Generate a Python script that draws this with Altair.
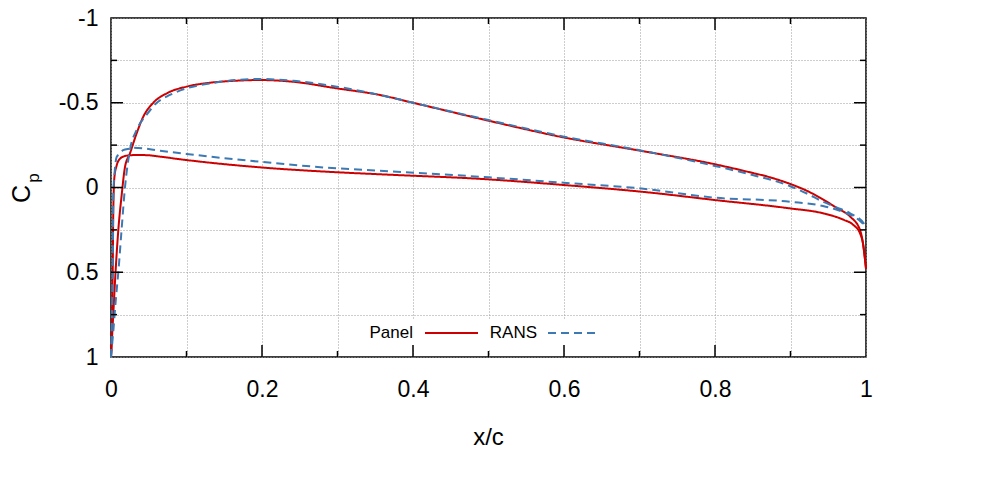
import altair as alt
import pandas as pd

# ---------------- data ----------------
series_names = ["Panel", "RANS"]
series_colors = ["#cc0000", "#3d7ab3"]

panel_upper_x = [0, 0.003, 0.006, 0.0097, 0.014, 0.0185, 0.025, 0.034, 0.043, 0.056, 0.074, 0.100,
                 0.131, 0.166, 0.197, 0.241, 0.299, 0.356, 0.400, 0.500, 0.599, 0.701, 0.800,
                 0.846, 0.873, 0.899, 0.921, 0.943, 0.961, 0.979, 0.992, 0.996, 1.0]
panel_upper_cp = [1.0, 0.75, 0.5, 0.25, 0.05, -0.12, -0.20, -0.32, -0.42, -0.50, -0.556, -0.595,
                  -0.618, -0.630, -0.634, -0.624, -0.585, -0.546, -0.500, -0.394, -0.296, -0.217, -0.137,
                  -0.09, -0.06, -0.022, 0.018, 0.07, 0.12, 0.172, 0.25, 0.33, 0.48]

panel_lower_x = [0, 0.0015, 0.0025, 0.003, 0.0045, 0.0075, 0.012, 0.018, 0.025, 0.036, 0.05, 0.065,
                 0.10, 0.197, 0.299, 0.356, 0.50, 0.599, 0.714, 0.80, 0.899, 0.943, 0.97, 0.983,
                 0.992, 0.996, 1.0]
panel_lower_cp = [1.0, 0.75, 0.4, 0.15, -0.06, -0.13, -0.17, -0.185, -0.19, -0.192, -0.19, -0.182,
                  -0.162, -0.119, -0.09, -0.078, -0.048, -0.015, 0.03, 0.074, 0.123, 0.152, 0.19, 0.22,
                  0.27, 0.33, 0.48]

rans_upper_x = [0, 0.003, 0.0066, 0.0097, 0.014, 0.0185, 0.025, 0.034, 0.047, 0.060, 0.078, 0.100,
                0.131, 0.166, 0.197, 0.241, 0.299, 0.356, 0.400, 0.500, 0.600, 0.700, 0.800, 0.846,
                0.899, 0.921, 0.943, 0.961, 0.979, 0.997, 1.0]
rans_upper_cp = [1.0, 0.85, 0.65, 0.5, 0.25, 0.0, -0.22, -0.34, -0.428, -0.497, -0.546, -0.585,
                 -0.614, -0.634, -0.640, -0.630, -0.595, -0.546, -0.50, -0.398, -0.30, -0.22, -0.127, -0.078,
                 -0.009, 0.034, 0.084, 0.117, 0.152, 0.211, 0.23]

rans_lower_x = [0, 0.0015, 0.0025, 0.003, 0.005, 0.0075, 0.012, 0.016, 0.025, 0.03, 0.065, 0.10,
                0.197, 0.299, 0.356, 0.50, 0.60, 0.70, 0.80, 0.90, 0.943, 0.974, 0.987, 1.0]
rans_lower_cp = [1.0, 0.7, 0.35, 0.05, -0.10, -0.18, -0.20, -0.22, -0.23, -0.235, -0.217, -0.198,
                 -0.152, -0.113, -0.099, -0.06, -0.028, 0.005, 0.06, 0.084, 0.109, 0.152, 0.18, 0.23]

x_grid = [0, 0.1, 0.2, 0.3, 0.4, 0.5, 0.6, 0.7, 0.8, 0.9, 1]
y_grid = [-1, -0.75, -0.5, -0.25, 0, 0.25, 0.5, 0.75, 1]
x_major = [0.2, 0.4, 0.6, 0.8]
x_minor = [0.1, 0.3, 0.5, 0.7, 0.9]
y_major = [-0.5, 0, 0.5]
y_minor = [-0.75, -0.25, 0.25, 0.75]

# ---------------- build table ----------------
rows = []
for name, surf, xs, cps in [
    ("Panel", "upper", panel_upper_x, panel_upper_cp),
    ("Panel", "lower", panel_lower_x, panel_lower_cp),
    ("RANS", "upper", rans_upper_x, rans_upper_cp),
    ("RANS", "lower", rans_lower_x, rans_lower_cp),
]:
    for i, (xv, cv) in enumerate(zip(xs, cps)):
        rows.append({"x": xv, "cp": cv, "series": name, "curve": name + "-" + surf, "o": i})
df = pd.DataFrame(rows)

W, H = 755, 339
FONT = "Liberation Sans"
xscale = alt.Scale(domain=[0, 1], nice=False, zero=False)
yscale = alt.Scale(domain=[-1, 1], reverse=True, nice=False, zero=False)

xaxis = alt.Axis(values=x_grid, grid=True, gridDash=[1, 2], gridColor="#9a9a9a", gridWidth=1,
                 ticks=False, domain=False, labelFontSize=23, labelPadding=21, labelColor="black",
                 labelFont=FONT, title=None, labelFlush=False, labelOverlap=False,
                 labelExpr="(round(datum.value*10) % 2 == 0) ? ('' + datum.value) : ''")
yaxis = alt.Axis(values=y_grid, grid=True, gridDash=[1, 2], gridColor="#9a9a9a", gridWidth=1,
                 ticks=False, domain=False, labelFontSize=23, labelPadding=13, labelColor="black",
                 labelFont=FONT, title=None, labelFlush=False, labelOverlap=False,
                 labelExpr="(round(datum.value*4) % 2 == 0) ? ('' + datum.value) : ''")

lines = alt.Chart(df).mark_line(strokeWidth=2, clip=False, interpolate="monotone").encode(
    x=alt.X("x:Q", scale=xscale, axis=xaxis),
    y=alt.Y("cp:Q", scale=yscale, axis=yaxis),
    color=alt.Color("series:N", scale=alt.Scale(domain=series_names, range=series_colors), legend=None),
    strokeDash=alt.StrokeDash("series:N", scale=alt.Scale(domain=series_names, range=[[1, 0], [8, 5]]),
                              legend=None),
    detail="curve:N",
    order="o:Q",
)

def xticks(vals, length, top):
    d = pd.DataFrame({"x": vals})
    if top:
        enc = dict(y=alt.value(0), y2=alt.value(length))
    else:
        enc = dict(y=alt.value(H), y2=alt.value(H - length))
    return alt.Chart(d).mark_rule(color="black", strokeWidth=1.5).encode(
        x=alt.X("x:Q", scale=xscale, axis=xaxis), **enc)

def yticks(vals, length, right):
    d = pd.DataFrame({"cp": vals})
    if right:
        enc = dict(x=alt.value(W), x2=alt.value(W - length))
    else:
        enc = dict(x=alt.value(0), x2=alt.value(length))
    return alt.Chart(d).mark_rule(color="black", strokeWidth=1.5).encode(
        y=alt.Y("cp:Q", scale=yscale, axis=yaxis), **enc)

ticks = [
    xticks(x_major, 12, False), xticks(x_minor, 6, False),
    xticks(x_major, 12, True), xticks(x_minor, 6, True),
    yticks(y_major, 12, False), yticks(y_minor, 6, False),
    yticks(y_major, 12, True), yticks(y_minor, 6, True),
]

one = pd.DataFrame({"k": [0]})
# key (inside plot, label before sample, on white box)
key_bg = alt.Chart(one).mark_rect(fill="white").encode(
    x=alt.value(249), x2=alt.value(500), y=alt.value(301), y2=alt.value(332))
key_t1 = alt.Chart(one).mark_text(
    align="right", baseline="middle", fontSize=17, font=FONT, color="black").encode(
    x=alt.value(302), y=alt.value(315), text=alt.value(series_names[0]))
key_l1 = alt.Chart(one).mark_rule(strokeWidth=2, color=series_colors[0]).encode(
    x=alt.value(314), x2=alt.value(367), y=alt.value(315))
key_t2 = alt.Chart(one).mark_text(
    align="right", baseline="middle", fontSize=17, font=FONT, color="black").encode(
    x=alt.value(426), y=alt.value(315), text=alt.value(series_names[1]))
key_l2 = alt.Chart(one).mark_rule(strokeWidth=2, color=series_colors[1], strokeDash=[8, 5]).encode(
    x=alt.value(437), x2=alt.value(487), y=alt.value(315))

# axis titles
xtitle = alt.Chart(one).mark_text(
    align="center", baseline="middle", fontSize=24, font=FONT, color="black").encode(
    x=alt.value(W / 2), y=alt.value(420), text=alt.value("x/c"))
ytitle_c = alt.Chart(one).mark_text(
    align="center", baseline="middle", fontSize=25, font=FONT, color="black", angle=270).encode(
    x=alt.value(-89), y=alt.value(176), text=alt.value("C"))
ytitle_p = alt.Chart(one).mark_text(
    align="center", baseline="middle", fontSize=17, font=FONT, color="black", angle=270).encode(
    x=alt.value(-77), y=alt.value(160), text=alt.value("p"))

chart = alt.layer(
    lines, key_bg, key_t1, key_l1, key_t2, key_l2, *ticks, xtitle, ytitle_c, ytitle_p
).properties(
    width=W, height=H,
    autosize=alt.AutoSizeParams(type="none"),
    padding={"left": 111, "top": 18, "right": 119, "bottom": 128},
).configure(font=FONT, background="white").configure_view(stroke="black", strokeWidth=1.5)

chart.save("out.html", embed_options={"renderer": "svg", "actions": False})
